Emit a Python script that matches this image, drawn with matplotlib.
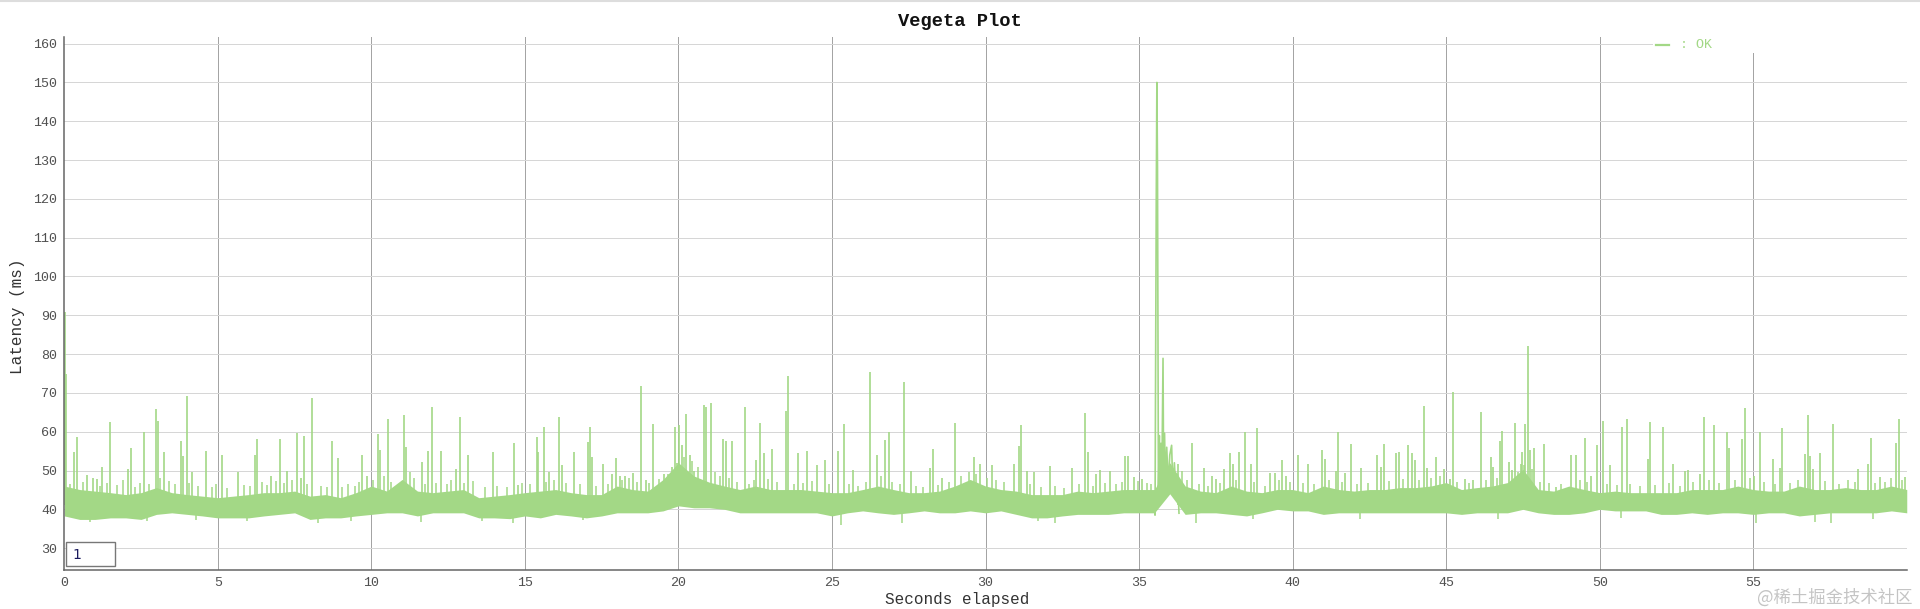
import matplotlib.pyplot as plt
import numpy as np
from matplotlib.patches import Rectangle
from matplotlib.lines import Line2D

# band of the dense latency noise, read every 0.5 s (t = 0, 0.5, ... 60)
band_t = np.arange(0, 60.5, 0.5)
band_upper = [46.0, 45.1, 44.7, 44.3, 43.8, 44.3, 45.6, 44.3, 43.8, 43.4,
              43.0, 43.4, 43.8, 44.3, 44.3, 44.7, 43.4, 43.8, 43.0, 44.3,
              46.0, 44.7, 47.7, 44.7, 44.3, 44.7, 45.1, 43.0, 43.4, 43.8,
              44.3, 44.7, 45.1, 44.3, 43.8, 43.8, 46.0, 45.1, 44.7, 47.7,
              52.0, 48.6, 47.0, 46.0, 45.1, 46.0, 45.1, 45.1, 45.1, 44.7,
              44.3, 44.3, 45.1, 46.0, 45.1, 44.3, 44.3, 44.7, 46.0, 47.7,
              46.0, 45.1, 44.7, 43.8, 43.8, 43.8, 44.7, 44.3, 44.7, 45.1,
              45.1, 45.1, 52.0, 46.0, 44.7, 44.3, 46.0, 44.7, 44.3, 45.1,
              45.1, 44.3, 46.0, 45.1, 44.7, 45.1, 45.1, 45.6, 45.6, 46.0,
              46.9, 45.1, 45.6, 46.0, 46.9, 50.3, 45.1, 44.7, 46.0, 45.1,
              44.3, 44.7, 44.3, 44.3, 44.3, 44.3, 45.1, 45.1, 45.1, 46.0,
              45.1, 44.7, 44.7, 46.0, 45.1, 45.1, 45.6, 45.1, 45.1, 46.0,
              45.1]
band_lower = [38.3, 37.4, 37.4, 37.8, 37.8, 37.4, 38.7, 39.1, 38.7, 38.3,
              37.8, 37.8, 37.8, 38.3, 38.7, 39.1, 37.4, 37.8, 37.8, 38.3,
              38.7, 39.1, 39.1, 38.3, 39.1, 39.1, 39.1, 37.8, 37.8, 37.6,
              38.3, 37.8, 38.7, 38.3, 37.8, 38.3, 39.1, 39.1, 39.1, 39.6,
              40.9, 40.4, 40.4, 40.0, 39.1, 39.1, 39.1, 39.1, 39.1, 39.1,
              38.3, 39.1, 39.6, 39.1, 38.7, 39.1, 39.6, 39.1, 39.1, 39.6,
              39.1, 39.6, 38.7, 37.8, 37.8, 38.3, 38.7, 38.7, 38.7, 39.1,
              39.1, 39.1, 44.0, 38.7, 39.1, 39.1, 38.7, 38.3, 39.1, 40.0,
              39.6, 39.6, 38.7, 39.1, 39.1, 39.1, 39.1, 39.1, 39.1, 39.1,
              39.1, 38.7, 39.1, 39.1, 39.1, 40.0, 39.1, 38.7, 38.7, 39.1,
              40.0, 39.6, 39.6, 39.6, 38.7, 38.7, 39.1, 38.7, 39.1, 39.1,
              38.7, 39.1, 39.1, 38.3, 38.7, 39.1, 39.1, 39.1, 39.1, 39.6,
              39.1]

# single request spikes (seconds, ms)
spike_t = [0.03, 0.06, 0.31, 0.42, 0.74, 0.94, 1.07, 1.24, 1.48, 2.06, 2.16, 2.58,
           2.98, 3.06, 3.23, 3.79, 3.87, 3.99, 4.17, 4.62, 5.13, 5.64, 6.21, 6.29,
           6.74, 7.02, 7.26, 7.58, 7.71, 7.81, 8.08, 8.72, 8.92, 9.71, 9.85, 10.22,
           10.28, 10.53, 11.05, 11.13, 11.66, 11.84, 11.97, 12.28, 12.77, 12.88, 13.14,
           13.95, 14.65, 14.78, 15.39, 15.44, 15.61, 15.80, 16.11, 16.20, 16.61, 17.04,
           17.12, 17.20, 17.55, 17.83, 17.95, 18.09, 18.27, 18.53, 18.77, 18.94, 19.18,
           19.53, 19.80, 19.90, 19.96, 20.03, 20.12, 20.26, 20.38, 20.51, 20.83, 20.91,
           21.06, 21.45, 21.54, 21.74, 22.16, 22.53, 22.66, 22.79, 23.03, 23.49, 23.58,
           23.89, 24.19, 24.50, 24.76, 25.20, 25.39, 25.70, 26.24, 26.46, 26.73, 26.86,
           27.35, 27.58, 28.19, 28.30, 28.59, 29.01, 29.64, 29.83, 30.20, 30.93, 31.08,
           31.17, 31.34, 31.58, 32.09, 32.82, 33.23, 33.33, 33.61, 33.74, 34.04, 34.54,
           34.64, 34.85, 35.11, 36.26, 36.73, 37.12, 37.38, 37.52, 37.78, 37.97, 38.06,
           38.26, 38.44, 38.63, 38.85, 39.28, 39.44, 39.67, 39.80, 40.19, 40.49, 40.97,
           41.05, 41.42, 41.48, 41.69, 41.90, 42.24, 42.75, 42.88, 42.98, 43.38, 43.47,
           43.77, 43.89, 43.98, 44.29, 44.38, 44.67, 44.92, 45.11, 45.21, 45.62, 45.87,
           46.12, 46.46, 46.51, 46.76, 46.81, 47.06, 47.13, 47.25, 47.43, 47.48, 47.58,
           47.65, 47.74, 47.87, 48.18, 48.57, 49.07, 49.24, 49.51, 49.72, 49.91, 50.11,
           50.35, 50.74, 50.89, 51.56, 51.65, 52.07, 52.39, 52.79, 52.89, 53.26, 53.39,
           53.71, 54.13, 54.21, 54.65, 54.73, 55.02, 55.21, 55.64, 55.88, 55.93, 56.69,
           56.79, 56.86, 56.95, 57.19, 57.61, 58.42, 58.74, 58.84, 59.14, 59.66, 59.76,
           59.93]
spike_v = [90.8, 75.0, 54.7, 58.7, 48.8, 48.0, 47.7, 51.0, 62.6, 50.5, 55.7, 59.9,
           65.9, 62.8, 54.7, 57.7, 53.8, 69.1, 49.7, 55.0, 54.0, 49.6, 54.1, 58.2,
           48.5, 58.2, 49.8, 59.7, 48.1, 59.0, 68.6, 57.5, 53.3, 53.9, 48.7, 59.5,
           55.2, 63.4, 64.2, 56.1, 52.2, 55.0, 66.4, 55.0, 50.5, 63.9, 54.1,
           54.9, 57.1, 46.3, 58.7, 54.7, 61.2, 49.7, 63.8, 51.3, 54.7, 57.4,
           61.2, 53.5, 51.8, 49.2, 53.1, 48.7, 48.6, 49.4, 71.9, 47.5, 61.9,
           49.0, 51.0, 61.2, 51.9, 61.7, 56.6, 64.5, 54.0, 50.0, 66.9, 66.4,
           67.4, 58.0, 57.7, 57.5, 66.4, 52.6, 62.3, 54.5, 55.6, 65.4, 74.3,
           54.4, 55.0, 51.3, 52.8, 55.0, 62.1, 50.1, 75.5, 53.9, 57.8, 59.9,
           72.8, 49.9, 50.7, 55.6, 48.1, 62.3, 53.4, 51.8, 51.5, 51.6, 56.3,
           61.7, 49.8, 49.6, 51.1, 50.7, 64.9, 54.7, 49.0, 50.1, 49.9, 53.7,
           53.7, 48.4, 47.7, 51.6, 57.1, 50.7, 48.5, 47.8, 50.3, 54.5, 51.8,
           54.9, 59.9, 51.6, 60.9, 49.4, 49.4, 52.8, 48.6, 54.0, 51.8, 55.4,
           53.0, 49.9, 60.0, 49.4, 56.8, 50.6, 54.0, 50.8, 56.9, 54.4, 54.7,
           56.6, 54.4, 52.6, 66.6, 50.6, 53.5, 50.3, 47.9, 70.3, 47.9, 47.5,
           65.2, 53.5, 51.0, 57.5, 60.2, 52.3, 50.1, 62.3, 51.6, 54.9, 62.1,
           82.0, 55.4, 55.8, 56.9, 45.8, 53.9, 54.0, 58.5, 48.7, 56.6, 62.8,
           51.3, 61.2, 63.2, 53.0, 62.6, 61.1, 51.8, 49.8, 50.1, 49.1, 63.7,
           61.7, 59.8, 55.9, 58.0, 66.2, 48.6, 59.8, 53.0, 50.6, 60.9, 54.2,
           64.2, 53.7, 50.3, 54.5, 62.1, 50.3, 51.8, 58.3, 48.4, 57.1, 63.4,
           48.4]

# smaller peaks on top of the band (seconds, ms)
minor = [(0.18, 46.5), (0.62, 47.0), (1.15, 46.0), (1.38, 46.8), (1.72, 46.2), (1.90, 47.5),
         (2.30, 45.8), (2.45, 46.9), (2.75, 46.4), (3.13, 48.0), (3.40, 47.2), (3.60, 46.5),
         (4.05, 46.8), (4.35, 46.0), (4.80, 45.7), (4.95, 46.5), (5.30, 45.6), (5.85, 46.2),
         (6.05, 46.0), (6.45, 47.0), (6.60, 46.3), (6.90, 47.2), (7.15, 46.8), (7.40, 47.5),
         (7.90, 46.6), (8.35, 46.0), (8.55, 45.8), (9.05, 45.7), (9.25, 46.4), (9.45, 46.0),
         (9.60, 47.0), (10.05, 47.5), (10.40, 48.5), (10.65, 47.0), (10.85, 46.2), (11.25, 49.5),
         (11.40, 48.0), (11.75, 46.5), (12.10, 46.8), (12.45, 46.5), (12.60, 47.5), (13.00, 46.8),
         (13.30, 47.2), (13.70, 45.8), (14.10, 46.0), (14.40, 45.8), (14.90, 46.8), (15.15, 46.5),
         (15.70, 47.0), (15.95, 47.5), (16.35, 46.8), (16.80, 46.5), (17.30, 46.0), (17.70, 46.5),
         (18.15, 47.5), (18.40, 48.0), (18.65, 47.0), (19.05, 46.8), (19.35, 47.8), (19.65, 49.0),
         (20.18, 53.5), (20.45, 52.5), (20.65, 51.0), (21.20, 49.5), (21.35, 48.5), (21.65, 48.0),
         (21.90, 47.0), (22.30, 46.5), (22.45, 47.5), (22.90, 47.8), (23.20, 47.0), (23.75, 46.5),
         (24.05, 46.8), (24.35, 47.2), (24.90, 46.5), (25.55, 46.5), (25.85, 46.0), (26.10, 47.0),
         (26.60, 48.5), (26.95, 47.0), (27.20, 46.5), (27.75, 46.0), (27.95, 45.8), (28.45, 46.2),
         (28.80, 47.0), (29.20, 48.5), (29.45, 49.5), (29.70, 49.0), (30.05, 48.0), (30.35, 47.5),
         (30.60, 47.0), (31.45, 46.5), (31.80, 45.8), (32.25, 46.0), (32.55, 45.6), (33.05, 46.5),
         (33.50, 46.0), (33.90, 46.8), (34.25, 46.5), (34.45, 47.0), (34.95, 47.2), (35.25, 46.8),
         (35.40, 46.5), (36.40, 50.0), (36.55, 47.5), (36.95, 46.5), (37.25, 46.0), (37.65, 46.8),
         (38.15, 47.5), (38.75, 47.0), (39.10, 46.0), (39.55, 47.5), (39.90, 47.0), (40.35, 46.8),
         (40.70, 46.5), (41.20, 47.5), (41.60, 47.0), (42.10, 46.5), (42.45, 46.8), (43.15, 47.2),
         (43.60, 47.8), (44.10, 47.5), (44.50, 48.0), (44.80, 48.5), (45.35, 47.0), (45.75, 46.8),
         (46.30, 47.5), (46.65, 48.0), (47.35, 49.5), (47.55, 51.5), (47.80, 50.5), (48.05, 47.0),
         (48.35, 46.8), (48.75, 46.5), (49.35, 47.5), (49.60, 47.0), (50.25, 46.5), (50.55, 46.2),
         (51.00, 46.5), (51.30, 46.0), (51.80, 46.2), (52.25, 46.8), (52.60, 46.0), (53.05, 47.0),
         (53.55, 47.5), (53.90, 46.8), (54.40, 47.5), (54.90, 48.0), (55.35, 47.0), (55.70, 46.5),
         (56.20, 46.8), (56.45, 47.5), (57.35, 47.2), (57.80, 46.5), (58.10, 47.5), (58.30, 47.0),
         (58.95, 46.8), (59.30, 47.0), (59.50, 48.0), (59.85, 47.5)]
minor_t = [p[0] for p in minor]
minor_v = [p[1] for p in minor]

# short drops below the band
dip_t = [0.85, 2.70, 4.30, 5.95, 8.25, 9.35, 11.63, 13.60, 14.60, 16.90, 25.30, 27.27,
         31.70, 32.26, 36.85, 38.70, 42.20, 46.70, 50.70, 55.10, 57.00, 57.54, 58.90]
dip_v = [36.8, 36.9, 37.2, 37.0, 36.6, 37.0, 36.7, 37.0, 36.6, 37.2, 35.9, 36.4,
         37.0, 36.4, 36.4, 37.4, 37.5, 37.6, 37.8, 36.6, 36.7, 36.6, 37.6]

# the burst around 35.6 s
burst_t = [35.50, 35.52, 35.56, 35.58, 35.60, 35.63, 35.66, 35.68, 35.71, 35.74, 35.78,
           35.80, 35.83, 35.86, 35.90, 35.95, 36.00, 36.06, 36.10, 36.15, 36.20, 36.25, 36.30]
burst_v = [41.0, 38.5, 120.0, 150.0, 128.0, 44.5, 59.0, 45.0, 57.0, 46.0, 78.9,
           47.0, 59.6, 45.5, 56.0, 46.5, 54.0, 56.5, 45.0, 52.0, 44.0, 49.0, 39.0]

y_ticks = np.arange(30, 161, 10)
x_ticks = np.arange(0, 56, 5)

green = '#a3d886'
mono = 'Liberation Mono'

fig = plt.figure(figsize=(19.2, 6.09), dpi=100)
ax = fig.add_axes([0.0335, 0.0636, 0.9596, 0.8756])

ax.fill_between(band_t, band_lower, band_upper, color=green, lw=0, zorder=2)
ax.vlines(minor_t, 41, minor_v, color=green, lw=1.1, zorder=2)
ax.vlines(spike_t, 41, spike_v, color=green, lw=1.2, zorder=2)
ax.vlines(dip_t, dip_v, 40, color=green, lw=1.1, zorder=2)
ax.plot(burst_t, burst_v, color=green, lw=1.2, zorder=2)

ax.set_xlim(0, 60)
ax.set_ylim(24.3, 161.7)
ax.set_xticks(x_ticks)
ax.set_yticks(y_ticks)
ax.tick_params(length=0, labelsize=9.6, labelcolor='#505050', pad=5)
for lab in ax.get_xticklabels() + ax.get_yticklabels():
    lab.set_family(mono)

# grid: vertical darker than horizontal
for x in x_ticks[1:]:
    ax.axvline(x, color='#a4a4a4', lw=0.72, zorder=1)
for y in y_ticks:
    ax.axhline(y, color='#d6d6d6', lw=0.72, zorder=1)

for s in ['top', 'right']:
    ax.spines[s].set_visible(False)
for s in ['left', 'bottom']:
    ax.spines[s].set_color('#666666')
    ax.spines[s].set_linewidth(1.1)
    ax.spines[s].set_zorder(3)

# legend box in the top right
ax.add_patch(Rectangle((0.8623, 0.9706), 0.1377, 0.0294, transform=ax.transAxes,
                       facecolor='white', edgecolor='none', zorder=4))
ax.plot([0.8640, 0.8711], [0.9852, 0.9852], color=green, lw=1.6,
        transform=ax.transAxes, zorder=5)
ax.text(0.8770, 0.9852, ': OK', color=green, fontsize=9.6, family=mono,
        transform=ax.transAxes, va='center', ha='left', zorder=5)

# roll period input box
ax.add_patch(Rectangle((0.0008, 0.0075), 0.0269, 0.045, transform=ax.transAxes,
                       facecolor='white', edgecolor='#777777', lw=1, zorder=4))
ax.text(0.0042, 0.0282, '1', color='#1a1a5e', fontsize=10, family='DejaVu Sans',
        transform=ax.transAxes, va='center', ha='left', zorder=5)

fig.text(0.5, 0.965, 'Vegeta Plot', ha='center', va='center', fontsize=13.5,
         fontweight='bold', family=mono, color='#111111')
fig.text(0.4987, 0.0164, 'Seconds elapsed', ha='center', va='center',
         fontsize=11.5, family=mono, color='#333333')
fig.text(0.0091, 0.481, 'Latency (ms)', ha='center', va='center', rotation=90,
         fontsize=11.5, family=mono, color='#333333')
fig.text(0.9962, 0.004, '@稀土掘金技术社区', ha='right', va='bottom', fontsize=12.5,
         family=['Noto Sans CJK SC', 'DejaVu Sans'], color='#c4c4c4')

fig.add_artist(Line2D([0, 1], [0.999, 0.999], color='#dddddd', lw=1.5))

fig.savefig('out.png', dpi=100)
